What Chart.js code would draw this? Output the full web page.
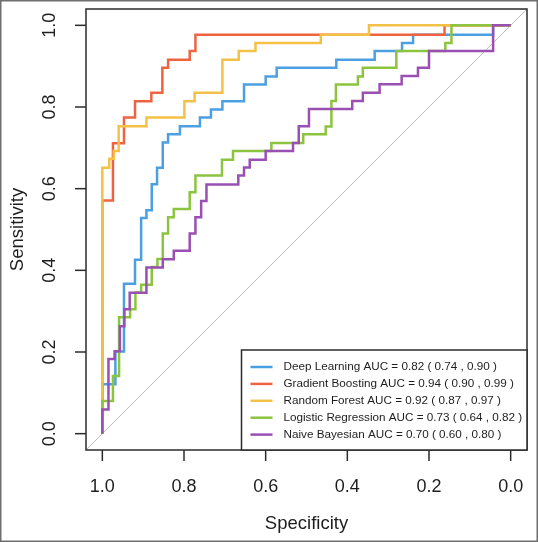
<!DOCTYPE html>
<html>
<head>
<meta charset="utf-8">
<script src="https://cdn.jsdelivr.net/npm/chart.js@4/dist/chart.umd.min.js"></script>
<style>
  html, body { margin: 0; padding: 0; background: #fff; }
  canvas { display: block; }
</style>
</head>
<body>
<canvas id="roc" width="538" height="542"></canvas>
<script>
// ROC step points (specificity, sensitivity)
const dlSpec = [1, 0.968, 0.947, 0.920, 0.905, 0.892, 0.879, 0.866, 0.852, 0.839, 0.810, 0.761, 0.734, 0.706, 0.653, 0.600, 0.573, 0.427, 0.333, 0.266, 0.239, 0.043, 0];
const dlSens = [0, 0.121, 0.201, 0.367, 0.426, 0.528, 0.547, 0.611, 0.651, 0.713, 0.733, 0.753, 0.774, 0.794, 0.814, 0.855, 0.875, 0.896, 0.916, 0.937, 0.957, 0.977, 1];

const gbSpec = [1, 0.974, 0.947, 0.920, 0.880, 0.853, 0.839, 0.786, 0.772, 0.162, 0];
const gbSens = [0, 0.571, 0.711, 0.774, 0.814, 0.835, 0.896, 0.916, 0.937, 0.977, 1];

const rfSpec = [1, 0.983, 0.972, 0.960, 0.892, 0.799, 0.774, 0.706, 0.666, 0.625, 0.465, 0.347, 0];
const rfSens = [0, 0.651, 0.673, 0.692, 0.753, 0.774, 0.814, 0.835, 0.916, 0.937, 0.957, 0.977, 1];

const lrSpec = [1, 0.974, 0.959, 0.932, 0.919, 0.905, 0.879, 0.865, 0.852, 0.839, 0.825, 0.786, 0.772, 0.707, 0.680, 0.586, 0.508, 0.453, 0.439, 0.428, 0.374, 0.362, 0.280, 0.160, 0.145, 0];
const lrSens = [0, 0.080, 0.141, 0.285, 0.305, 0.346, 0.365, 0.408, 0.428, 0.490, 0.530, 0.550, 0.591, 0.632, 0.671, 0.692, 0.712, 0.733, 0.752, 0.815, 0.855, 0.875, 0.896, 0.937, 0.957, 1];

const nbSpec = [1, 0.985, 0.970, 0.957, 0.946, 0.933, 0.892, 0.852, 0.825, 0.786, 0.772, 0.758, 0.745, 0.667, 0.653, 0.639, 0.600, 0.533, 0.519, 0.494, 0.388, 0.362, 0.321, 0.267, 0.227, 0.200, 0.043, 0];
const nbSens = [0, 0.059, 0.183, 0.202, 0.263, 0.305, 0.345, 0.407, 0.427, 0.448, 0.490, 0.530, 0.570, 0.610, 0.632, 0.652, 0.671, 0.692, 0.712, 0.753, 0.795, 0.815, 0.835, 0.856, 0.876, 0.896, 0.937, 1];

const modelNames = ["Deep Learning", "Gradient Boosting", "Random Forest", "Logistic Regression", "Naive Bayesian"];
const aucValues = ["0.82", "0.94", "0.92", "0.73", "0.70"];
const ciLow = ["0.74", "0.90", "0.87", "0.64", "0.60"];
const ciHigh = ["0.90", "0.99", "0.97", "0.82", "0.80"];
const colors = ["#4c9fe0", "#ee6443", "#f4c147", "#8cc43f", "#9a4fb3"];

const axisTicks = [0, 0.2, 0.4, 0.6, 0.8, 1.0];
const axisMin = -0.04;
const axisMax = 1.04;

const FONT = '"Liberation Sans", Arial, Helvetica, sans-serif';

const toPoints = (xs, ys) => xs.map((v, i) => ({ x: v, y: ys[i] }));
const curves = [
  toPoints(dlSpec, dlSens),
  toPoints(gbSpec, gbSens),
  toPoints(rfSpec, rfSens),
  toPoints(lrSpec, lrSens),
  toPoints(nbSpec, nbSens),
];

const datasets = curves.map((pts, i) => ({
  label: modelNames[i],
  data: pts,
  borderColor: colors[i],
  backgroundColor: colors[i],
  borderWidth: 2.5,
  pointRadius: 0,
  stepped: "after",
  tension: 0,
  order: curves.length - i, // later models drawn on top, like R
}));

// chance line
datasets.push({
  label: "chance",
  data: [{ x: axisMax, y: 1 - axisMax }, { x: axisMin, y: 1 - axisMin }],
  borderColor: "#bdbdbd",
  borderWidth: 1,
  pointRadius: 0,
  order: 10,
});

const rocDecor = {
  id: "rocDecor",
  beforeDraw(chart) {
    const { ctx, width, height } = chart;
    ctx.save();
    ctx.fillStyle = "#fff";
    ctx.fillRect(0, 0, width, height);
    ctx.strokeStyle = "#6e6e6e";
    ctx.lineWidth = 1.5;
    ctx.strokeRect(0.75, 0.75, width - 1.5, height - 1.5);
    ctx.restore();
  },
  afterDatasetsDraw(chart) {
    const { ctx, chartArea: a, scales } = chart;
    const xs = scales.x, ys = scales.y;
    ctx.save();

    // plot box
    ctx.strokeStyle = "#2b2b2b";
    ctx.lineWidth = 1.5;
    ctx.strokeRect(a.left, a.top, a.right - a.left, a.bottom - a.top);

    // x ticks + labels
    ctx.fillStyle = "#1e1e1e";
    ctx.font = "18px " + FONT;
    ctx.textAlign = "center";
    ctx.textBaseline = "middle";
    axisTicks.forEach((t) => {
      const px = xs.getPixelForValue(t);
      ctx.beginPath();
      ctx.moveTo(px, a.bottom);
      ctx.lineTo(px, a.bottom + 11);
      ctx.stroke();
      ctx.fillText(t.toFixed(1), px, a.bottom + 37);
    });

    // y ticks + rotated labels
    axisTicks.forEach((t) => {
      const py = ys.getPixelForValue(t);
      ctx.beginPath();
      ctx.moveTo(a.left, py);
      ctx.lineTo(a.left - 11, py);
      ctx.stroke();
      ctx.save();
      ctx.translate(a.left - 36, py);
      ctx.rotate(-Math.PI / 2);
      ctx.fillText(t.toFixed(1), 0, 0);
      ctx.restore();
    });

    // axis titles
    ctx.font = "18.5px " + FONT;
    ctx.fillText("Specificity", (a.left + a.right) / 2, a.bottom + 74);
    ctx.save();
    ctx.translate(18, (a.top + a.bottom) / 2);
    ctx.rotate(-Math.PI / 2);
    ctx.fillText("Sensitivity", 0, 0);
    ctx.restore();

    // legend box in bottom-right corner
    const lx = 241.5, ly = 350;
    ctx.fillStyle = "#fff";
    ctx.fillRect(lx, ly, a.right - lx, a.bottom - ly);
    ctx.strokeStyle = "#2b2b2b";
    ctx.lineWidth = 1.5;
    ctx.strokeRect(lx, ly, a.right - lx, a.bottom - ly);

    ctx.font = "11.7px " + FONT;
    ctx.textAlign = "left";
    ctx.textBaseline = "middle";
    modelNames.forEach((name, i) => {
      const rowY = ly + 17 + i * 16.9;
      ctx.strokeStyle = colors[i];
      ctx.lineWidth = 2.5;
      ctx.beginPath();
      ctx.moveTo(lx + 9, rowY);
      ctx.lineTo(lx + 31, rowY);
      ctx.stroke();
      ctx.fillStyle = "#1e1e1e";
      const txt = name + " AUC = " + aucValues[i] + " ( " + ciLow[i] + " , " + ciHigh[i] + " )";
      ctx.fillText(txt, lx + 42, rowY);
    });

    ctx.restore();
  },
};

new Chart(document.getElementById("roc"), {
  type: "line",
  data: { datasets },
  options: {
    responsive: false,
    animation: false,
    layout: { padding: { left: 86, top: 9, right: 11, bottom: 92 } },
    plugins: {
      legend: { display: false },
      tooltip: { enabled: false },
    },
    scales: {
      x: { type: "linear", reverse: true, min: axisMin, max: axisMax, display: false },
      y: { type: "linear", min: axisMin, max: axisMax, display: false },
    },
  },
  plugins: [rocDecor],
});
</script>
</body>
</html>
